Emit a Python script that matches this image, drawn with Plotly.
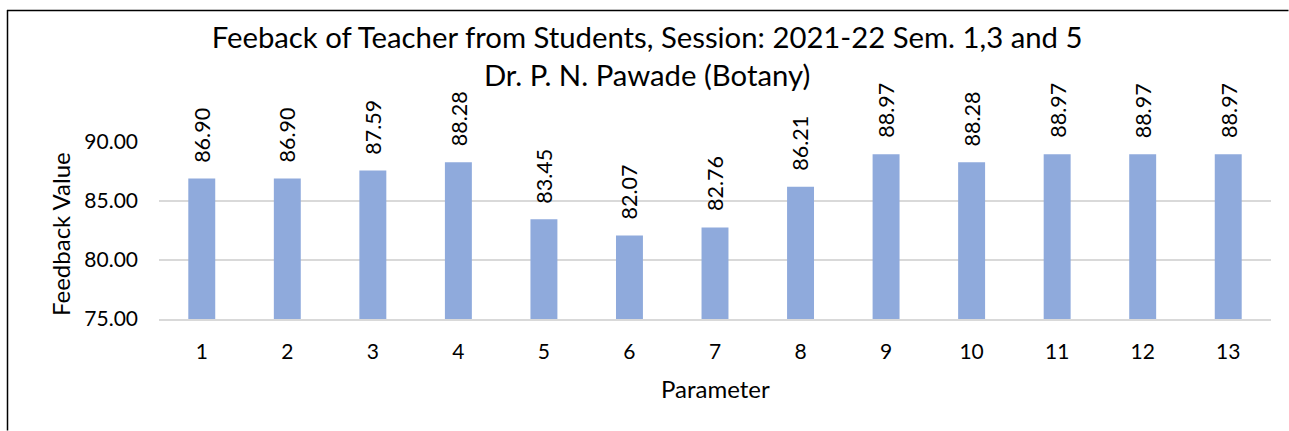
import plotly.graph_objects as go

parameters = list(range(1, 14))
feedback = [86.90, 86.90, 87.59, 88.28, 83.45, 82.07, 82.76, 86.21, 88.97, 88.28, 88.97, 88.97, 88.97]
y_ticks = [75, 80, 85, 90]
title_line1 = "Feeback of Teacher from Students, Session: 2021-22 Sem. 1,3 and 5"
title_line2 = "Dr. P. N. Pawade (Botany)"

FONT = "Lato"
W, H = 1289, 431
L, R, T, B = 159, 18, 142, 112

fig = go.Figure()
fig.add_trace(go.Bar(
    x=parameters, y=feedback,
    marker=dict(color="#8FAADC", line=dict(width=0)),
    hoverinfo="x+y",
))

for p, v in zip(parameters, feedback):
    fig.add_annotation(
        x=p, y=v, xref="x", yref="y",
        text=f"{v:.2f}", textangle=-90,
        showarrow=False, yanchor="bottom", yshift=14,
        font=dict(family=FONT, size=21.5, color="#000000"),
    )

pw = W - L - R
ph = H - T - B

fig.add_annotation(
    text="Feedback Value", textangle=-90, showarrow=False,
    xref="paper", yref="paper", x=(60 - L) / pw, y=0.48,
    xanchor="center", yanchor="middle",
    font=dict(family=FONT, size=24, color="#000000"),
)
fig.add_annotation(
    text="Parameter", showarrow=False,
    xref="paper", yref="paper", x=0.5, y=-(388 - (H - B)) / ph,
    xanchor="center", yanchor="middle",
    font=dict(family=FONT, size=24, color="#000000"),
)

# chart border (top and left edges visible)
fig.add_shape(type="line", xref="paper", yref="paper",
              x0=(7 - L) / pw, x1=(W - 0.5 - L) / pw,
              y0=(H - B - 10.5) / ph, y1=(H - B - 10.5) / ph,
              line=dict(color="#000000", width=1.5))
fig.add_shape(type="line", xref="paper", yref="paper",
              x0=(7.5 - L) / pw, x1=(7.5 - L) / pw,
              y0=(H - B - 10) / ph, y1=(H - B - H + 0.5) / ph,
              line=dict(color="#000000", width=1.5))

fig.update_layout(
    width=W, height=H,
    margin=dict(l=L, r=R, t=T, b=B, autoexpand=False),
    paper_bgcolor="white", plot_bgcolor="white",
    bargap=0.685,
    showlegend=False,
    title=dict(
        text=title_line1 + "<br>" + title_line2,
        xref="container", x=0.502, xanchor="center",
        yref="container", y=1 - 48 / H, yanchor="top",
        font=dict(family=FONT, size=29.3, color="#000000"),
    ),
    xaxis=dict(
        range=[0.5, 13.5], tickvals=parameters,
        ticktext=[str(p) for p in parameters],
        showgrid=False, zeroline=False,
        showline=True, linecolor="#D9D9D9", linewidth=2,
        ticks="", ticklabelstandoff=13,
        tickfont=dict(family=FONT, size=21, color="#000000"),
    ),
    yaxis=dict(
        range=[75, 90], tickvals=y_ticks,
        ticktext=[f"{t:.2f}" for t in y_ticks],
        showgrid=True, gridcolor="#D9D9D9", gridwidth=2,
        zeroline=False, showline=False, ticks="",
        ticklabelstandoff=20,
        tickfont=dict(family=FONT, size=21, color="#000000"),
    ),
)

fig.write_html(
    "out.html",
    config={"displayModeBar": False},
    post_script="document.body.style.margin='0';document.body.style.overflow='hidden';",
)
